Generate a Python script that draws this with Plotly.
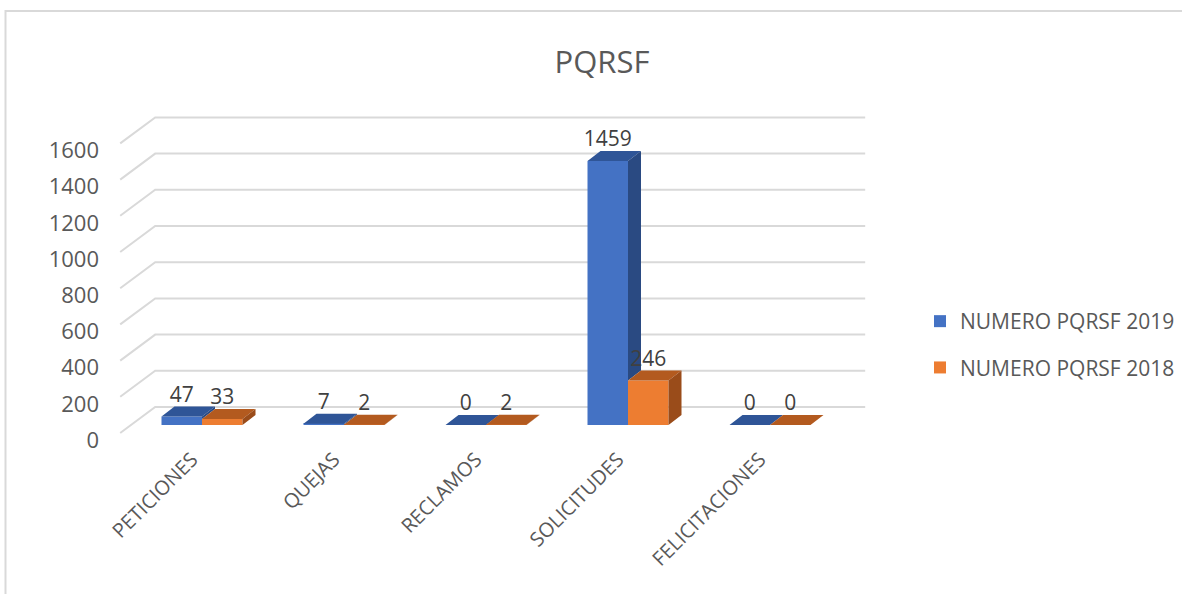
import plotly.graph_objects as go

# ---------------- data ----------------
categories = ["PETICIONES", "QUEJAS", "RECLAMOS", "SOLICITUDES", "FELICITACIONES"]
series_names = ["NUMERO PQRSF 2019", "NUMERO PQRSF 2018"]
values_2019 = [47, 7, 0, 1459, 0]
values_2018 = [33, 2, 2, 246, 0]
y_ticks = [0, 200, 400, 600, 800, 1000, 1200, 1400, 1600]
y_tick_labels = [str(v) for v in y_ticks]
title_text = "PQRSF"

# ---------------- style / geometry ----------------
FONT = "Open Sans"
TXT = "#595959"
LBL = "#404040"
GRID = "#d9d9d9"
front_cols = ["#4472C4", "#ED7D31"]
top_cols = ["#2F5597", "#B35A1F"]
side_cols = ["#2A4A82", "#9A4C1A"]

W_FIG, H_FIG = 1182, 594
ML, MR, MT, MB = 110, 312, 100, 151
PX_X = 142.0      # pixels per category
PX_Y = 0.181      # pixels per value unit
X0_PX = 202.0     # pixel of category 0 (bar-front plane)
Y0_PX = 425.0     # pixel of value 0 (bar-front plane)
plot_w = W_FIG - ML - MR
plot_h = H_FIG - MT - MB
x_range = [(ML - X0_PX) / PX_X, (ML + plot_w - X0_PX) / PX_X]
y_range = [-(MT + plot_h - Y0_PX) / PX_Y, (Y0_PX - MT) / PX_Y]


def ddx(px):
    return px / PX_X


def ddy(px):
    return px / PX_Y


BAR_W = 40.5 / PX_X
BAR_D = (ddx(13), ddy(10))
FLOOR_FRONT = (ddx(-10.8), ddy(-8))
BACK = (ddx(24.2), ddy(18))
X_LEFT, X_RIGHT = -0.5, len(categories) - 0.5

fig = go.Figure()

series = [values_2019, values_2018]
offsets = [-BAR_W, 0.0]
xs = list(range(len(categories)))

# front faces (real bars)
for k in range(2):
    fig.add_trace(go.Bar(
        x=xs, y=series[k], width=BAR_W, offset=offsets[k],
        name=series_names[k], legendgroup=series_names[k],
        marker=dict(color=front_cols[k], line=dict(width=0)),
        hoverinfo="skip",
    ))

# 3D top and side faces computed from values
for k in range(2):
    tx, ty, sx, sy = [], [], [], []
    for i, v in enumerate(series[k]):
        x0 = i + offsets[k]
        x1 = x0 + BAR_W
        tx += [x0, x1, x1 + BAR_D[0], x0 + BAR_D[0], x0, None]
        ty += [v, v, v + BAR_D[1], v + BAR_D[1], v, None]
        base = 0
        if k == 0:
            base = min(v, series[1][i])
        if v > base:
            sx += [x1, x1, x1 + BAR_D[0], x1 + BAR_D[0], x1, None]
            sy += [base, v, v + BAR_D[1], base + BAR_D[1], base, None]
    fig.add_trace(go.Scatter(x=tx, y=ty, mode="lines", fill="toself",
                             fillcolor=top_cols[k], line=dict(width=0, color=top_cols[k]),
                             showlegend=False, hoverinfo="skip"))
    if sx:
        fig.add_trace(go.Scatter(x=sx, y=sy, mode="lines", fill="toself",
                                 fillcolor=side_cols[k], line=dict(width=0, color=side_cols[k]),
                                 showlegend=False, hoverinfo="skip"))

# data labels
for k in range(2):
    fig.add_trace(go.Scatter(
        x=[i + offsets[k] + BAR_W / 2 for i in xs],
        y=[v + ddy(20) for v in series[k]],
        text=[str(v) for v in series[k]], mode="text",
        textposition="middle center",
        textfont=dict(family=FONT, size=21, color=LBL),
        showlegend=False, hoverinfo="skip",
    ))

# gridlines: front diagonal + back wall, behind the bars
shapes = []
for v in y_ticks:
    p0 = (X_LEFT + FLOOR_FRONT[0], v + FLOOR_FRONT[1])
    p1 = (X_LEFT + BACK[0], v + BACK[1])
    p2 = (X_RIGHT + BACK[0], v + BACK[1])
    shapes.append(dict(type="path", xref="x", yref="y", layer="below",
                       path=f"M {p0[0]},{p0[1]} L {p1[0]},{p1[1]} L {p2[0]},{p2[1]}",
                       line=dict(color=GRID, width=2)))
# chart border
shapes.append(dict(type="rect", xref="paper", yref="paper", layer="below",
                   x0=(5.5 - ML) / plot_w, x1=(1200 - ML) / plot_w,
                   y0=(MT + plot_h - 620) / plot_h, y1=(MT + plot_h - 11) / plot_h,
                   line=dict(color=GRID, width=2), fillcolor="rgba(0,0,0,0)"))

fig.update_layout(
    width=W_FIG, height=H_FIG,
    margin=dict(l=ML, r=MR, t=MT, b=MB, autoexpand=False),
    paper_bgcolor="white", plot_bgcolor="white",
    barmode="overlay",
    shapes=shapes,
    font=dict(family=FONT, color=TXT, size=20),
    title=dict(text=title_text, xref="container", yref="container",
               x=602 / W_FIG, y=1 - 62 / H_FIG, xanchor="center", yanchor="middle",
               font=dict(family=FONT, size=31, color=TXT)),
    xaxis=dict(range=x_range, tickvals=[i - ddx(10) for i in xs], ticktext=categories,
               tickangle=-45, showgrid=False, zeroline=False, showline=False, ticks="",
               automargin=False,
               tickfont=dict(family=FONT, size=20, color=TXT)),
    yaxis=dict(range=y_range, tickvals=[v + ddy(-8) - ddy(7) for v in y_ticks],
               ticktext=y_tick_labels, showgrid=False, zeroline=False, showline=False,
               ticks="", ticklabelstandoff=10, automargin=False,
               tickfont=dict(family=FONT, size=22, color=TXT)),
    legend=dict(x=(920 - ML) / plot_w, xanchor="left",
                y=(MT + plot_h - 344.5) / plot_h, yanchor="middle",
                font=dict(family=FONT, size=21, color=TXT),
                tracegroupgap=16, bgcolor="rgba(0,0,0,0)"),
    showlegend=True,
)

fig.write_html("out.html", config={"displayModeBar": False},
               post_script="document.body.style.margin='0px';")
